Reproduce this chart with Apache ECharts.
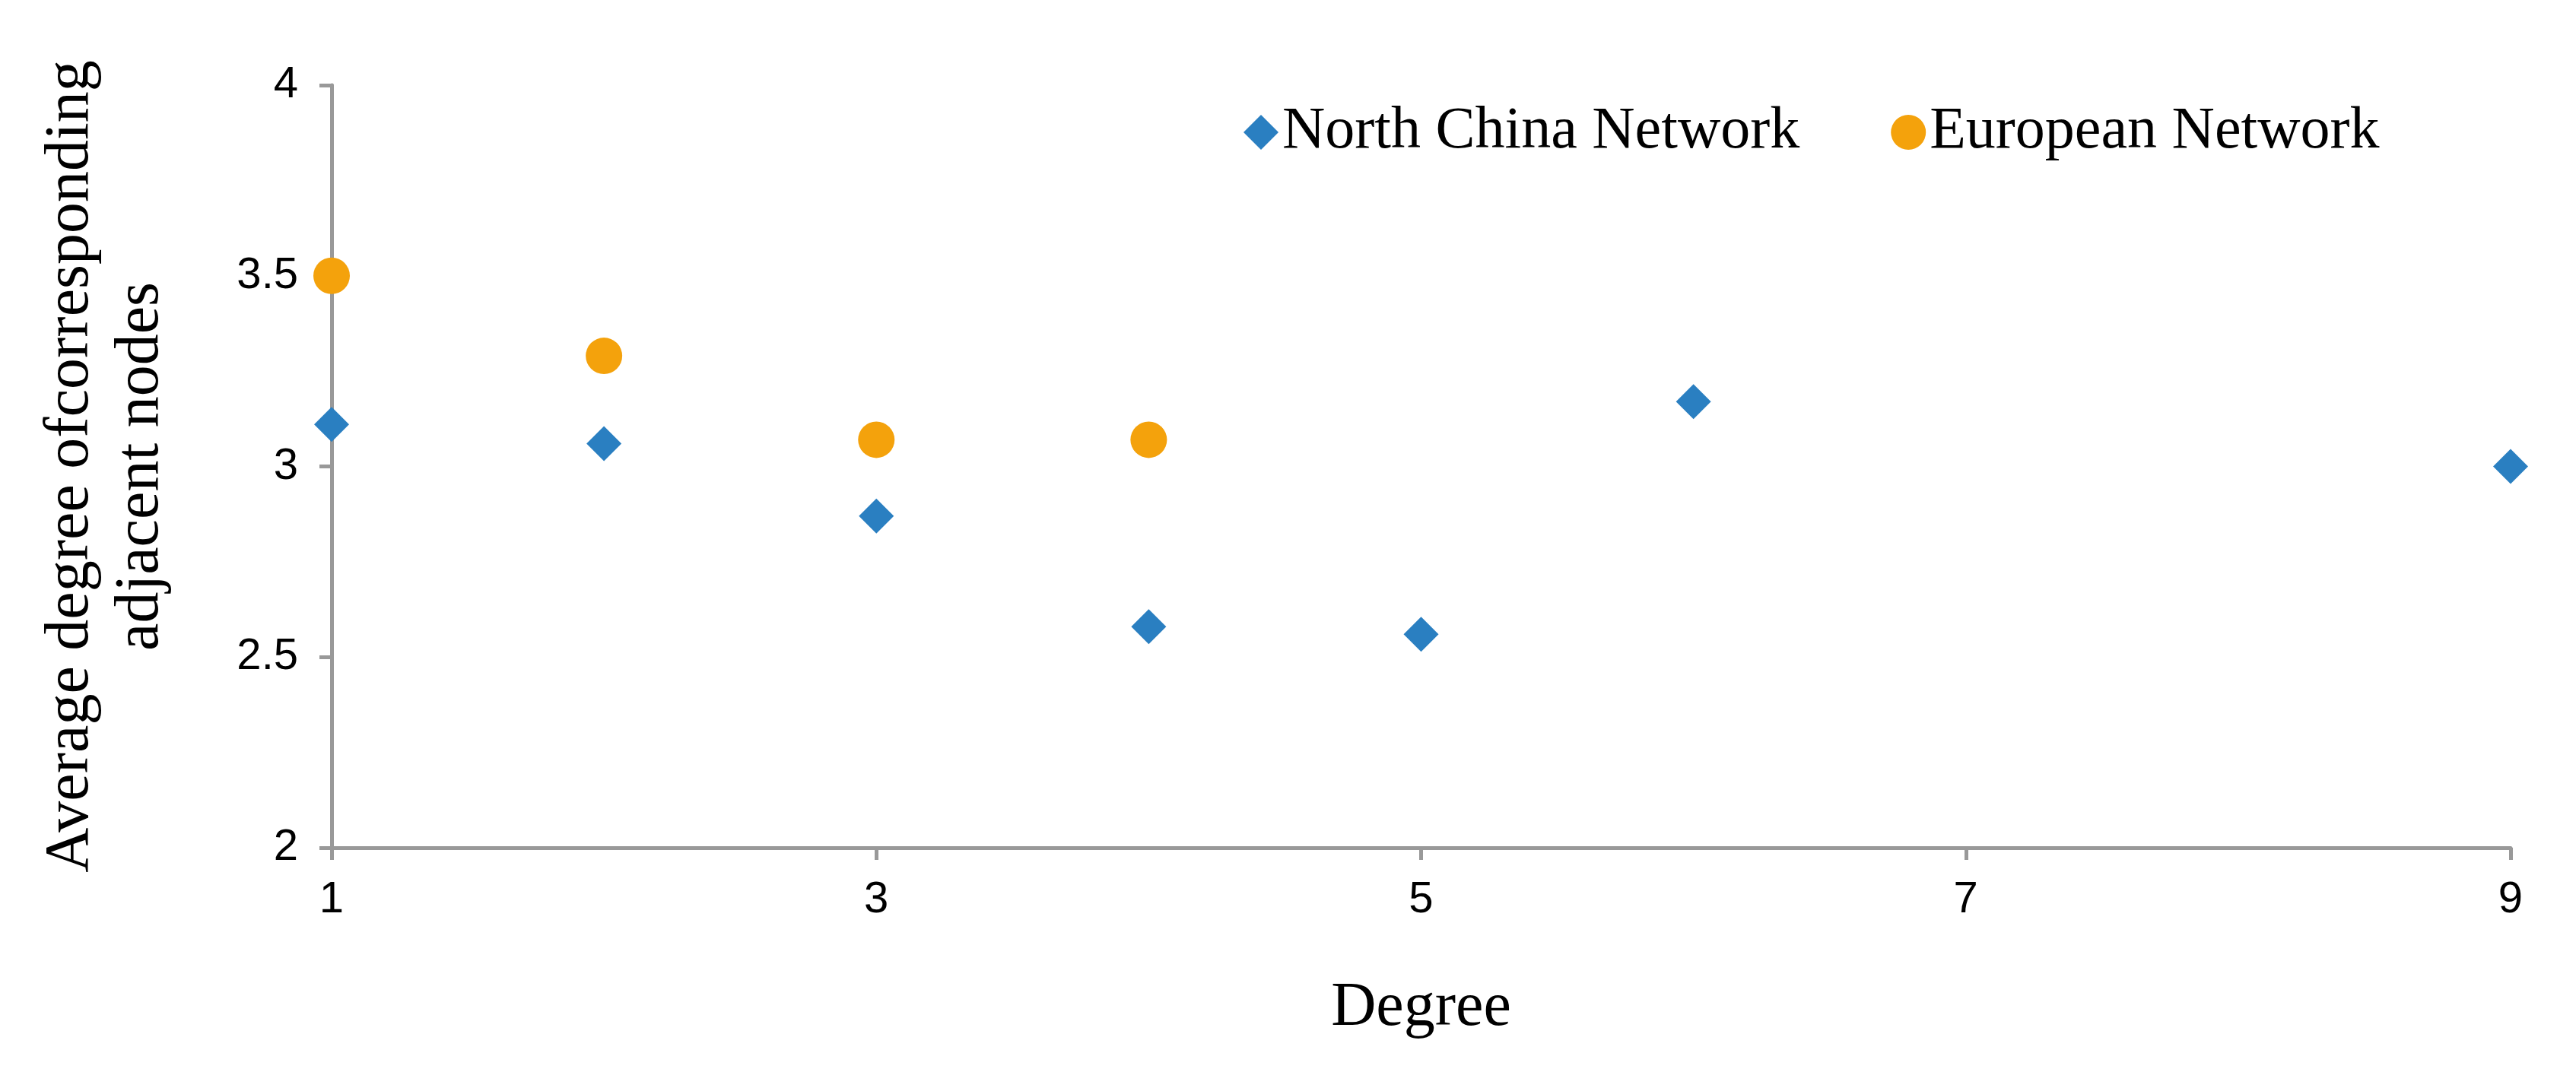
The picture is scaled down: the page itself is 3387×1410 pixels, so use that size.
<!DOCTYPE html>
<html>
<head>
<meta charset="UTF-8">
<script src="https://cdn.jsdelivr.net/npm/echarts@6/dist/echarts.min.js"></script>
<style>html,body{margin:0;background:#fff}</style>
</head>
<body>
<div id="main" style="width:3387px;height:1410px;"></div>
<script>
var seriesNames = ['North China Network', 'European Network'];
var northDegree = [1, 2, 3, 4, 5, 6, 9];
var northAvg = [3.11, 3.06, 2.87, 2.58, 2.56, 3.17, 3.0];
var euroDegree = [1, 2, 3, 4];
var euroAvg = [3.5, 3.29, 3.07, 3.07];

function pairs(xs, ys) {
  var out = [];
  for (var i = 0; i < xs.length; i++) out.push([xs[i], ys[i]]);
  return out;
}

var chart = echarts.init(document.getElementById('main'));
var axisGray = '#999999';
chart.setOption({
  animation: false,
  grid: { left: 436, right: 86, top: 112, bottom: 295 },
  legend: {
    left: 1630, top: 130, itemGap: 120, itemWidth: 46, itemHeight: 46,
    textStyle: { fontFamily: 'Liberation Serif', fontSize: 78, color: '#000' },
    data: seriesNames
  },
  xAxis: {
    type: 'value', min: 1, max: 9, interval: 2,
    name: 'Degree', nameLocation: 'middle', nameGap: 170,
    nameTextStyle: { fontFamily: 'Liberation Serif', fontSize: 82, color: '#000' },
    axisLine: { lineStyle: { color: axisGray, width: 5 } },
    axisTick: { show: true, length: 16, lineStyle: { color: axisGray, width: 5 } },
    axisLabel: { fontFamily: 'Liberation Sans', fontSize: 58, color: '#000', margin: 40 },
    splitLine: { show: false }
  },
  yAxis: {
    type: 'value', min: 2, max: 4, interval: 0.5,
    name: 'Average degree ofcorresponding\nadjacent nodes', nameLocation: 'middle',
    nameRotate: 90, nameGap: 205,
    nameTextStyle: { fontFamily: 'Liberation Serif', fontSize: 82, color: '#000', lineHeight: 92 },
    axisLine: { show: true, lineStyle: { color: axisGray, width: 5 } },
    axisTick: { show: true, length: 16, lineStyle: { color: axisGray, width: 5 } },
    axisLabel: { fontFamily: 'Liberation Sans', fontSize: 58, color: '#000', margin: 44 },
    splitLine: { show: false }
  },
  series: [
    { name: seriesNames[0], type: 'scatter', symbol: 'diamond', symbolSize: [46, 46],
      itemStyle: { color: '#2a7fc1', opacity: 1 }, data: pairs(northDegree, northAvg) },
    { name: seriesNames[1], type: 'scatter', symbol: 'circle', symbolSize: 48,
      itemStyle: { color: '#f4a20c', opacity: 1 }, data: pairs(euroDegree, euroAvg) }
  ]
});
</script>
</body>
</html>
